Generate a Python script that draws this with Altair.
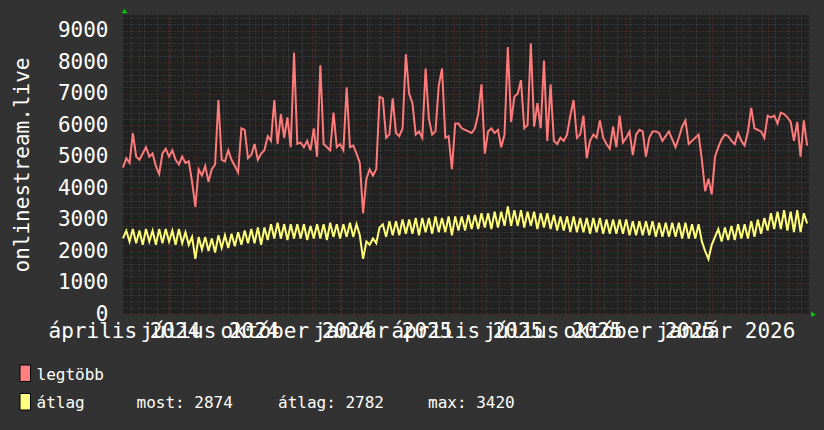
import json
import jinja2
import pandas as pd
import altair as alt

# ---------------- data ----------------
start_date = "2024-04-14"
step = "84h"  # one value every 3.5 days

legtobb = [
    4650, 4950, 4800, 5750, 5000, 4900, 5100, 5300, 5000, 5100,
    4700, 4450, 5100, 5250, 5000, 5200, 4900, 4750, 5000, 4800,
    4850, 4200, 3400, 4600, 4400, 4700, 4200, 4600, 4750, 6800,
    4900, 4850, 5200, 4900, 4700, 4500, 5900, 5850, 4950, 5050,
    5400, 4900, 5100, 5200, 5650, 5500, 6800, 5400, 6350, 5600,
    6250, 5300, 8300, 5400, 5450, 5300, 5500, 5200, 5900, 5000,
    7900, 5400, 5300, 5200, 6400, 5300, 5400, 5200, 7200, 5300,
    5350, 5100, 4800, 3200, 4300, 4600, 4400, 4600, 6900, 6850,
    5600, 5700, 6850, 5750, 5650, 5900, 8250, 7000, 6700, 5700,
    5800, 5600, 7800, 6200, 5700, 5800, 7250, 7800, 5600, 5650,
    4600, 6050, 6050, 5900, 5850, 5800, 5750, 5900, 6350, 7300,
    5100, 5800, 5900, 5750, 5850, 5300, 5700, 8480, 6100, 6900,
    7000, 7430, 5900, 6000, 8600, 5950, 6700, 5900, 8050, 5500,
    7300, 5500, 5400, 5600, 5500, 5700, 6300, 6800, 5600, 5700,
    6300, 4950, 5500, 5700, 5600, 6150, 5600, 5400, 5250, 5950,
    5300, 6300, 5450, 5600, 5800, 5050, 5700, 5850, 5800, 5000,
    5600, 5800, 5800, 5750, 5500, 5650, 5800, 5550, 5300, 5600,
    5950, 6150, 5400, 5500, 5600, 5700, 4900, 3900, 4300, 3800,
    5000, 5300, 5550, 5700, 5650, 5500, 5400, 5750, 5500, 5350,
    5800, 6550, 5900, 5850, 5800, 5600, 6300, 6250, 6300, 6050,
    6400, 6350, 6250, 6100, 5500, 6100, 5000, 6150, 5350,
]

atlag = [
    2400, 2650, 2300, 2700, 2250, 2650, 2200, 2700, 2300, 2650,
    2200, 2700, 2250, 2700, 2300, 2650, 2200, 2700, 2250, 2600,
    2200, 2450, 1750, 2450, 2050, 2450, 2000, 2400, 1950, 2500,
    2100, 2500, 2100, 2550, 2150, 2600, 2200, 2650, 2250, 2700,
    2250, 2750, 2200, 2750, 2350, 2850, 2400, 2900, 2400, 2850,
    2350, 2850, 2400, 2850, 2400, 2850, 2350, 2800, 2400, 2850,
    2400, 2850, 2350, 2900, 2450, 2850, 2400, 2850, 2450, 2900,
    2450, 2850, 2500, 1750, 2300, 2200, 2400, 2250, 2750, 2850,
    2450, 2950, 2500, 2950, 2500, 3000, 2550, 3000, 2550, 3050,
    2500, 3050, 2600, 3050, 2550, 3100, 2600, 3050, 2600, 3100,
    2500, 3100, 2650, 3100, 2650, 3150, 2700, 3150, 2700, 3200,
    2750, 3200, 2700, 3250, 2750, 3250, 2800, 3420, 2800, 3300,
    2800, 3300, 2750, 3250, 2800, 3250, 2700, 3200, 2750, 3200,
    2700, 3150, 2650, 3100, 2650, 3100, 2600, 3100, 2600, 3050,
    2600, 3050, 2550, 3050, 2600, 3050, 2550, 3000, 2550, 3000,
    2550, 3000, 2550, 3000, 2500, 2950, 2500, 2950, 2500, 2950,
    2500, 2950, 2450, 2900, 2450, 2900, 2450, 2900, 2450, 2900,
    2400, 2900, 2400, 2850, 2400, 2850, 2300, 2000, 1750, 2200,
    2450, 2700, 2300, 2750, 2350, 2800, 2350, 2850, 2400, 2850,
    2400, 2950, 2450, 3000, 2550, 3050, 2650, 3200, 2700, 3250,
    2700, 3300, 2650, 3250, 2600, 3300, 2600, 3200, 2874,
]

series_names = ["legtöbb", "átlag"]
stat_texts = ["most: 2874", "átlag: 2782", "max: 3420"]
y_title = "onlinestream.live"
x_tick_labels = ["április 2024", "július 2024", "október 2024", "január 2025",
                 "április 2025", "július 2025", "október 2025", "január 2026"]
y_tick_values = [0, 1000, 2000, 3000, 4000, 5000, 6000, 7000, 8000, 9000]

# ---------------- styling ----------------
BG = "#323232"
PLOT_BG = "#212121"
MINOR = "#4e4e4e"
MAJOR = "#6a2c2c"
RED = "#ff7a7a"
YELLOW = "#ffff78"
FONT = "DejaVu Sans Mono"

dates = pd.date_range(start_date, periods=len(legtobb), freq=step)
df = pd.DataFrame({"ido": dates, "maxv": legtobb, "avgv": atlag})


def dt(t):
    return alt.DateTime(year=int(t.year), month=int(t.month), date=int(t.day))


x_domain = [alt.DateTime(year=2024, month=4, date=14), alt.DateTime(year=2026, month=4, date=14)]
x_scale = alt.Scale(domain=x_domain)
y_scale = alt.Scale(domain=[0, 9500], nice=False)

minor_days = pd.date_range("2024-04-22", "2026-04-13", freq="14D")
major_days = pd.date_range("2024-05-01", "2026-04-01", freq="MS")
grid_days = sorted(set(minor_days) | set(major_days))
label_days = [pd.Timestamp(f"{d.year}-{d.month:02d}-15")
              for d in pd.date_range("2024-04-01", "2026-01-01", freq="3MS")]

x_grid_axis = alt.Axis(
    values=[dt(t) for t in grid_days], labels=False, ticks=False, domain=False,
    grid=True, orient="bottom", title=None,
    gridColor={"condition": {"test": "date(datum.value) == 1", "value": MAJOR}, "value": MINOR},
    gridDash=[1, 2], gridWidth=1,
)

label_expr = (json.dumps(x_tick_labels, ensure_ascii=False)
              + "[(year(datum.value)-2024)*4 + floor(month(datum.value)/3) - 1]")
x_label_axis = alt.Axis(
    values=[dt(t) for t in label_days],
    labelExpr=label_expr, grid=False, ticks=False, domain=False, orient="bottom",
    title=None, labelOverlap=False, labelFlush=False, labelBound=False,
    labelPadding=6, labelBaseline="top", labelAlign="center",
)

y_axis = alt.Axis(
    values=list(range(0, 9401, 200)), format="d",
    labelExpr="datum.value % 1000 == 0 ? datum.label : ''",
    gridColor={"condition": {"test": "datum.value % 1000 == 0", "value": MAJOR}, "value": MINOR},
    gridDash=[1, 2], gridWidth=1, ticks=False, domain=False, labelPadding=15,
    labelFlush=False, labelOverlap=False, orient="left",
    title=y_title, titleX=-101, titleY=149.5, titleAngle=270,
    titleAlign="center", titleBaseline="middle",
)

red_line = alt.Chart(df).mark_line(color=RED, strokeWidth=2).encode(
    x=alt.X("ido:T", scale=x_scale, axis=x_grid_axis),
    y=alt.Y("maxv:Q", scale=y_scale, axis=y_axis),
)
yellow_line = alt.Chart(df).mark_line(color=YELLOW, strokeWidth=2).encode(
    x=alt.X("ido:T", scale=x_scale, axis=x_label_axis),
    y=alt.Y("avgv:Q", scale=y_scale, axis=y_axis),
)


def one(label):
    return pd.DataFrame({"t": [label]})


def swatch(color, y0, y1):
    return alt.Chart(one("s")).mark_rect(color=color, stroke="#000000", strokeWidth=1).encode(
        x=alt.value(-103), x2=alt.value(-92.5), y=alt.value(y0), y2=alt.value(y1)
    )


def text(label, x, y):
    return alt.Chart(one(label)).mark_text(
        align="left", baseline="alphabetic", font=FONT, fontSize=16, color="#ffffff"
    ).encode(text="t:N", x=alt.value(x), y=alt.value(y))


legend_layers = [
    swatch("#ff8080", 350, 366.5),
    swatch("#ffff80", 378.5, 395),
    text(series_names[0], -86.5, 365),
    text(series_names[1], -86.5, 393),
    text(stat_texts[0], 13.5, 393),
    text(stat_texts[1], 155, 393),
    text(stat_texts[2], 305, 393),
]

arrows = [
    alt.Chart(one("a")).mark_point(shape="triangle-up", filled=True, color="#00cc00", size=30, opacity=1)
    .encode(x=alt.value(1.5), y=alt.value(-4)),
    alt.Chart(one("b")).mark_point(shape="triangle-right", filled=True, color="#00cc00", size=30, opacity=1)
    .encode(x=alt.value(690.5), y=alt.value(299.5)),
]

chart = alt.layer(red_line, yellow_line, *legend_layers, *arrows).resolve_axis(
    x="independent", y="shared"
).properties(
    width=686, height=299,
    padding={"left": 115, "top": 7, "right": 7, "bottom": 108},
    autosize=alt.AutoSizeParams(type="none"),
).configure(background=BG).configure_view(fill=PLOT_BG, stroke=None).configure_axis(
    labelColor="#ffffff", labelFont=FONT, labelFontSize=21,
    titleColor="#ffffff", titleFont=FONT, titleFontSize=21, titleFontWeight="normal",
)

PAGE = jinja2.Template("""<!DOCTYPE html>
<html>
<head>
<meta charset="utf-8">
<style>html, body { background: #323232; }</style>
<script type="text/javascript" src="{{ base_url }}/vega@{{ vega_version }}"></script>
<script type="text/javascript" src="{{ base_url }}/vega-lite@{{ vegalite_version }}"></script>
<script type="text/javascript" src="{{ base_url }}/vega-embed@{{ vegaembed_version }}"></script>
</head>
<body>
<div id="{{ output_div }}"></div>
<script type="text/javascript">
  var spec = {{ spec }};
  var embedOpt = {{ embed_options }};
  vegaEmbed("#{{ output_div }}", spec, embedOpt).catch(console.error);
</script>
</body>
</html>
""")

try:
    chart.save("out.html", embed_options={"renderer": "svg", "actions": False}, template=PAGE)
except TypeError:
    chart.save("out.html", embed_options={"renderer": "svg", "actions": False})
